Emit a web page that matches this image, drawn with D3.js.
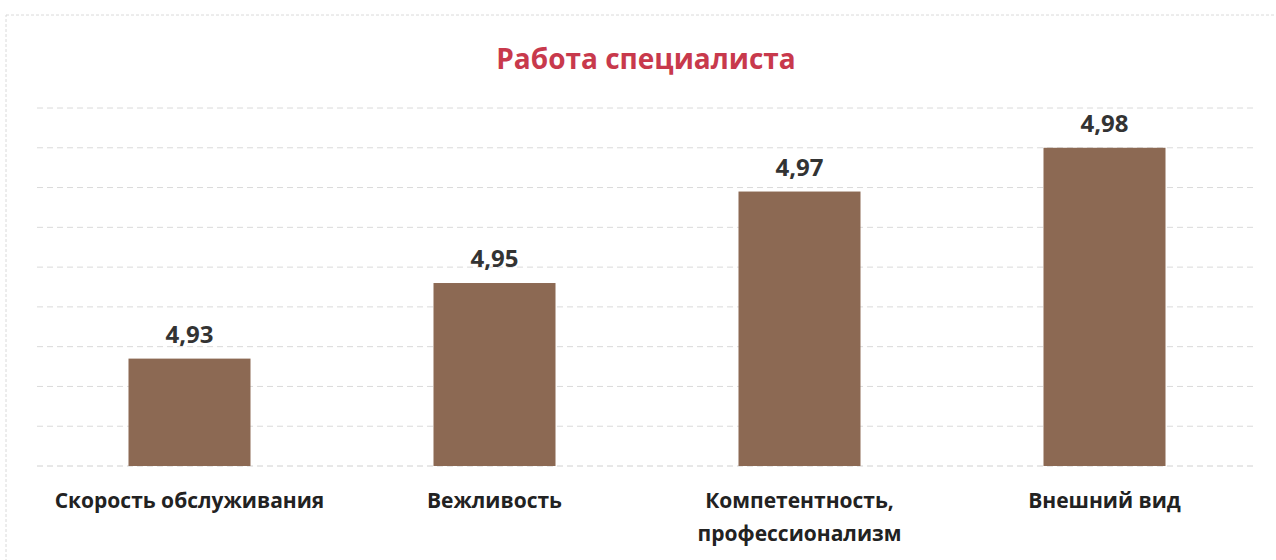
<!DOCTYPE html>
<html>
<head>
<meta charset="utf-8">
<script src="https://cdn.jsdelivr.net/npm/d3@7"></script>
<style>
  body { margin: 0; background: #fff; }
  svg { display: block; }
</style>
</head>
<body>
<div id="chart"></div>
<script>
const categories = [['Скорость обслуживания'], ['Вежливость'], ['Компетентность,', 'профессионализм'], ['Внешний вид']];
const values = [4.927, 4.946, 4.969, 4.980];
const yTicks = [4.90, 4.91, 4.92, 4.93, 4.94, 4.95, 4.96, 4.97, 4.98, 4.99];
const title = 'Работа специалиста';

const width = 1276, height = 560;
const margin = { top: 108, right: 19, bottom: 94, left: 37 };

const svg = d3.select('#chart').append('svg')
    .attr('width', width)
    .attr('height', height);

// Chart frame
svg.append('rect')
    .attr('x', 6).attr('y', 15)
    .attr('width', width).attr('height', height)
    .attr('fill', 'none')
    .attr('stroke', '#dadada')
    .attr('stroke-dasharray', '3,2');

const x = d3.scaleBand()
    .domain(d3.range(categories.length))
    .range([margin.left, width - margin.right])
    .paddingInner(0.6)
    .paddingOuter(0.3);

const y = d3.scaleLinear()
    .domain([4.90, 4.99])
    .range([height - margin.bottom, margin.top]);

// Gridlines
svg.append('g')
    .selectAll('line')
    .data(yTicks.slice(1))
    .join('line')
    .attr('x1', margin.left)
    .attr('x2', width - margin.right)
    .attr('y1', d => y(d))
    .attr('y2', d => y(d))
    .attr('stroke', '#dadada')
    .attr('stroke-dasharray', '6,4');

// Baseline
svg.append('line')
    .attr('x1', margin.left)
    .attr('x2', width - margin.right)
    .attr('y1', y(yTicks[0]))
    .attr('y2', y(yTicks[0]))
    .attr('stroke', '#d0d0d0')
    .attr('stroke-dasharray', '6,4');

// Bars
svg.append('g')
    .selectAll('rect')
    .data(values)
    .join('rect')
    .attr('x', (d, i) => x(i))
    .attr('y', d => y(d))
    .attr('width', x.bandwidth())
    .attr('height', d => y(4.90) - y(d))
    .attr('fill', '#8c6953');

// Value labels
const fmt = v => d3.format('.2f')(v).replace('.', ',');
svg.append('g')
    .selectAll('text')
    .data(values)
    .join('text')
    .attr('x', (d, i) => x(i) + x.bandwidth() / 2)
    .attr('y', d => y(d) - 16)
    .attr('text-anchor', 'middle')
    .style('font-family', 'Open Sans, sans-serif')
    .style('font-weight', 'bold')
    .style('font-size', '24px')
    .attr('fill', '#333')
    .text(d => fmt(d));

// Category labels
const cat = svg.append('g')
    .selectAll('text')
    .data(categories)
    .join('text')
    .attr('x', (d, i) => x(i) + x.bandwidth() / 2)
    .attr('y', 508)
    .attr('text-anchor', 'middle')
    .style('font-family', 'Open Sans, sans-serif')
    .style('font-weight', 'bold')
    .style('font-size', '21px')
    .attr('fill', '#222');

cat.selectAll('tspan')
    .data(d => d)
    .join('tspan')
    .attr('x', function() { return d3.select(this.parentNode).attr('x'); })
    .attr('dy', (d, i) => i === 0 ? 0 : 33)
    .text(d => d);

// Title
svg.append('text')
    .attr('x', 646)
    .attr('y', 69)
    .attr('text-anchor', 'middle')
    .style('font-family', 'Open Sans, sans-serif')
    .style('font-weight', 'bold')
    .style('font-size', '28px')
    .attr('fill', '#c8394c')
    .text(title);
</script>
</body>
</html>
